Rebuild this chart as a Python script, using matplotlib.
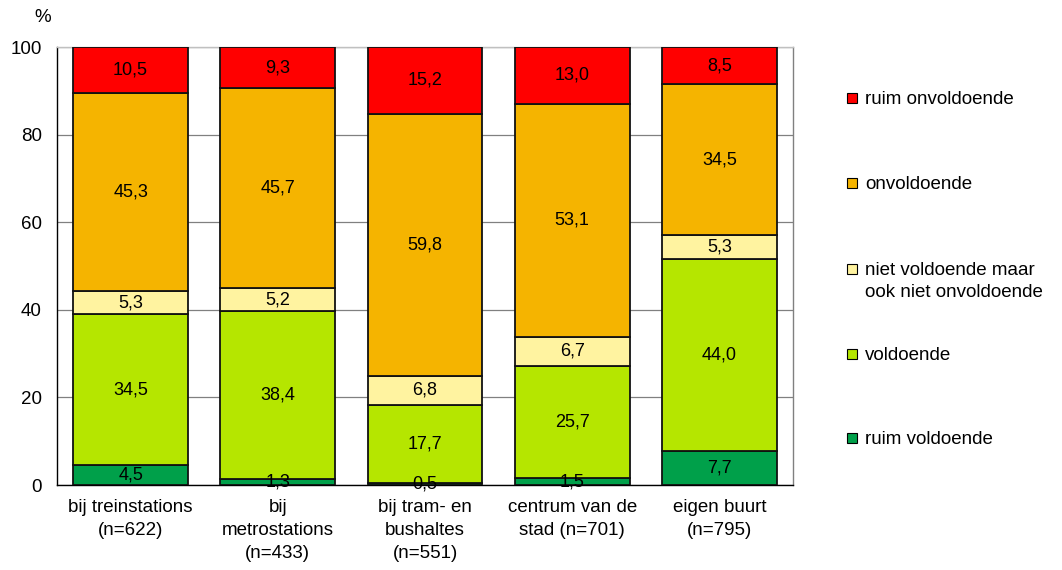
import matplotlib.pyplot as plt
from matplotlib.patches import Rectangle
import numpy as np

plt.rcParams['font.family'] = ['Liberation Sans', 'DejaVu Sans']

categories = ["bij treinstations\n(n=622)", "bij\nmetrostations\n(n=433)",
              "bij tram- en\nbushaltes\n(n=551)", "centrum van de\nstad (n=701)",
              "eigen buurt\n(n=795)"]
series_names = ["ruim voldoende", "voldoende",
                "niet voldoende maar\nook niet onvoldoende",
                "onvoldoende", "ruim onvoldoende"]
ruim_voldoende = [4.5, 1.3, 0.5, 1.5, 7.7]
voldoende = [34.5, 38.4, 17.7, 25.7, 44.0]
neutraal = [5.3, 5.2, 6.8, 6.7, 5.3]
onvoldoende = [45.3, 45.7, 59.8, 53.1, 34.5]
ruim_onvoldoende = [10.5, 9.3, 15.2, 13.0, 8.5]
colors = ["#00A04A", "#B5E600", "#FFF3A0", "#F5B400", "#FF0000"]

data = [ruim_voldoende, voldoende, neutraal, onvoldoende, ruim_onvoldoende]

fig = plt.figure(figsize=(10.62, 5.70), dpi=100)
ax = fig.add_axes([57/1062, 1-485/570, 736/1062, 438/570])

x = np.arange(len(categories))
bottom = np.zeros(len(categories))
for vals, col in zip(data, colors):
    vals = np.array(vals)
    ax.bar(x, vals, 0.78, bottom=bottom, color=col, edgecolor="#111111",
           linewidth=1.3, zorder=3)
    for xi, b, v in zip(x, bottom, vals):
        ax.text(xi, b + v/2, ("%.1f" % v).replace(".", ","), ha="center",
                va="center", fontsize=13, zorder=4)
    bottom += vals

ax.set_xlim(-0.5, len(categories)-0.5)
ax.set_ylim(0, 100)
ax.set_yticks([0, 20, 40, 60, 80, 100])
ax.yaxis.grid(True, color="#808080", linewidth=0.9, zorder=0)
ax.set_xticks(x)
ax.set_xticklabels(categories, fontsize=13.5, linespacing=1.45)
ax.tick_params(axis="x", length=0, pad=10)
ax.tick_params(axis="y", labelsize=13.5, length=0, pad=11)
ax.spines["left"].set_color("black")
ax.spines["bottom"].set_color("black")
ax.spines["right"].set_color("#808080")
ax.spines["top"].set_color("#C0C0C0")
for s in ax.spines.values():
    s.set_linewidth(1.0)
fig.text(43/1062, 1-18/570, "%", fontsize=13.5, ha="center", va="center")

# legend, drawn by hand to match spacing
leg_y = [438, 354, 269, 183, 98]
for name, col, yy in zip(series_names, colors, leg_y):
    fig.add_artist(Rectangle((847/1062, 1-(yy+5)/570), 10/1062, 10/570,
                             facecolor=col, edgecolor="black", linewidth=0.8,
                             transform=fig.transFigure))
    fig.text(865/1062, 1-(yy-7)/570, name, fontsize=13.5, ha="left", va="top",
             linespacing=1.35)

plt.savefig("out.png", dpi=100)
